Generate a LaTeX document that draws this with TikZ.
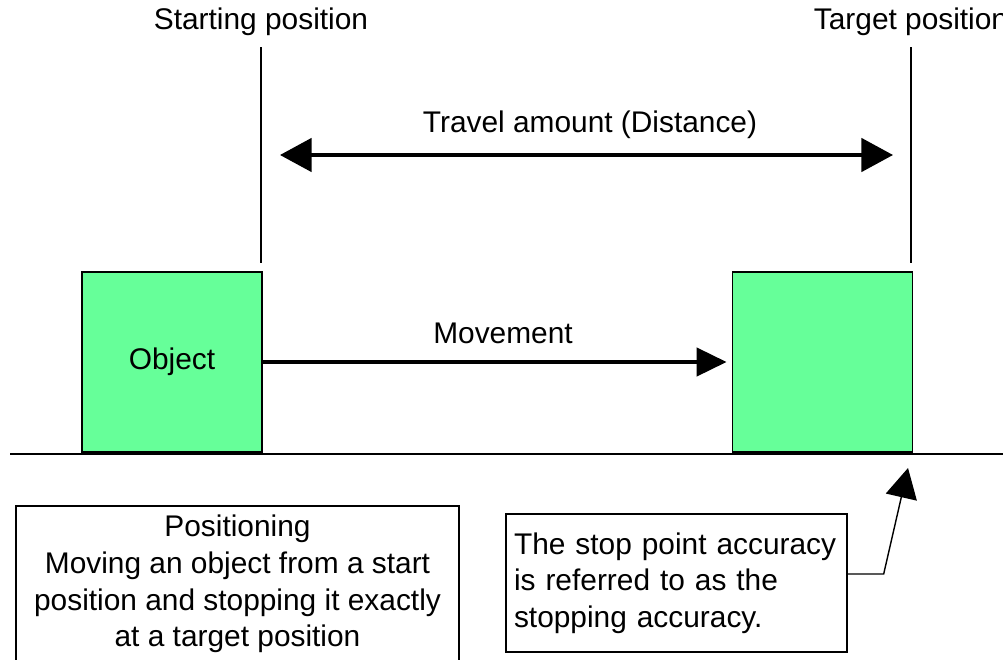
\documentclass[tikz,border=0pt]{standalone}
\usepackage{fontspec}
\setmainfont{Liberation Sans}
\usetikzlibrary{arrows.meta}
\definecolor{objgreen}{HTML}{66FF99}
\tikzset{
  txt/.style={font=\fontsize{17pt}{20.8pt}\selectfont},
  objbox/.style={txt, draw, fill=objgreen, line width=0.8pt, minimum width=3.6cm, minimum height=3.6cm},
  notebox/.style={txt, draw, line width=0.8pt},
  posline/.style={line width=1.6pt},
  bigarrow/.style={line width=2pt, {Triangle[length=18pt,width=19pt]}-{Triangle[length=18pt,width=19pt]}},
  movearrow/.style={line width=2.2pt, -{Triangle[length=17pt,width=16pt]}},
  callout/.style={line width=0.8pt, -{Triangle[length=17pt,width=18pt]}}
}
\begin{document}
\begin{tikzpicture}[x=0.02cm,y=-0.02cm]
      \useasboundingbox (0,0) rectangle (1003,659);
      \draw [line width=0.8pt](10,454) -- (1010,454);
      \node[objbox] (startobj) at (172,362) {Object};
      \node[objbox] (targetobj) at (822.5,362) {};
      \node[txt] (startlbl) at (261,22) {Starting position};
      \node[txt] (targetlbl) at (911,22) {Target position};
      \draw [posline, shorten <=3pt, shorten >=5pt] (startlbl.south) -- (startlbl.south |- startobj.north);
      \draw [posline, shorten <=3pt, shorten >=5pt] (targetlbl.south) -- (targetlbl.south |- targetobj.north);
      % travel amount
      \coordinate (travelL) at (280,155);
      \coordinate (travelR) at (893,155);
      \draw [bigarrow] (travelL) -- (travelR);
      \node[txt] (travellbl) at (590,125) {Travel amount (Distance)};
      % movement
      \draw [movearrow, shorten >=3pt] (startobj.east) -- (targetobj.west);
      \node[txt] (movelbl) at (503,333) {Movement};
      % notes
      \node[notebox, minimum width=8.86cm, minimum height=3.12cm, align=center] (posnote) at (237.5,584)
        {Positioning\\Moving an object from a start\\position and stopping it exactly\\at a target position};
      \node[notebox, minimum width=6.82cm, minimum height=2.76cm, text width=6.5cm, inner xsep=0.16cm, align=left] (accnote) at (676.5,583)
        {The stop point accuracy\\is referred to as the\\stopping accuracy.};
      \coordinate (stoptip) at (908,468);
      \draw [callout] ([yshift=0.18cm]accnote.east) -- ++(36,0) -- (stoptip);
    \end{tikzpicture}
\end{document}
